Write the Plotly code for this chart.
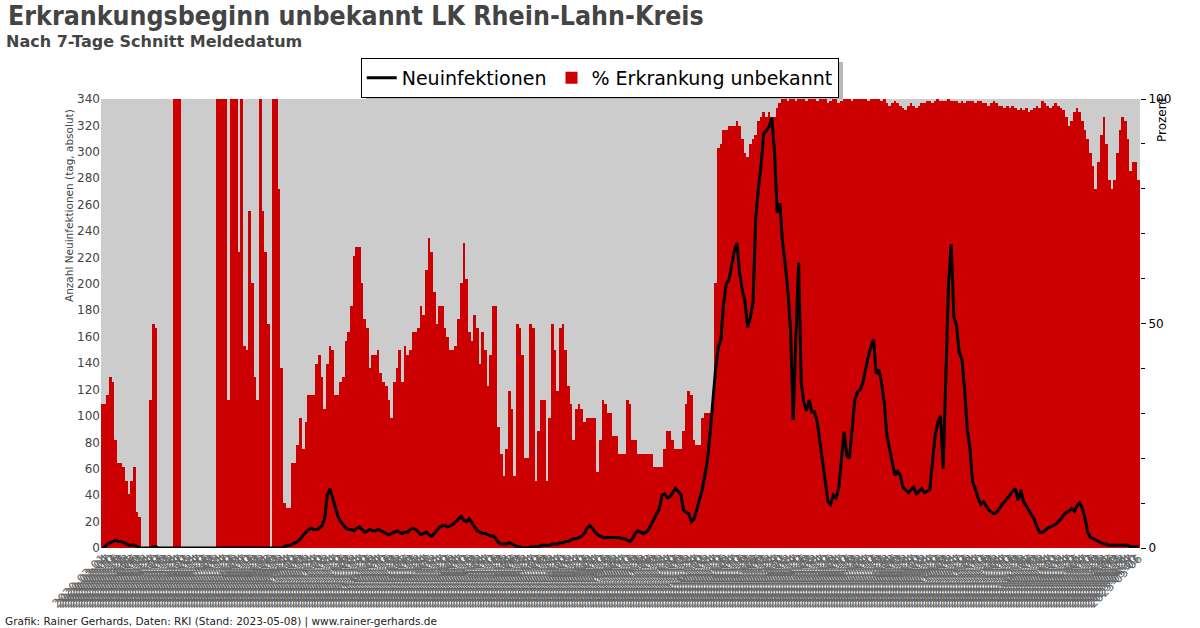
import pandas as pd
import plotly.graph_objects as go

# ---------------- data (3-day sampling) ----------------
start_date = "2020-03-01"
step_days = 3

# % Erkrankungsbeginn unbekannt (right axis, percent)
pct_unbekannt = [
    32, 32, 34, 38, 37, 24, 19, 19, 18, 15, 12, 15, 18, 8, 7,
    0, 0, 0,
    33, 50, 49,
    0, 0, 0, 0, 0, 0,
    100, 100, 100,
    0, 0, 0, 0, 0, 0, 0, 0, 0, 0, 0, 0, 0,
    100, 100, 100, 100,
    33,
    100, 100, 100,
    66,
    100,
    45, 44, 75, 59, 38, 33,
    100, 75, 66, 50,
    0,
    100, 100, 80, 40,
    10, 9, 9, 19, 19, 23, 29, 22, 28, 34, 34, 34,
    41, 43, 38, 31, 41, 45, 44, 34, 34, 37,
    38, 46, 48, 54, 65, 67, 67, 59, 51, 49,
    40, 43, 43, 44, 39, 37, 36, 33, 29, 37, 40, 44, 37, 45, 43,
    44, 48, 48, 49, 54, 52, 62, 69, 66, 57, 50, 54, 54, 49, 47,
    44, 44, 45, 51, 59, 68, 60, 48, 46, 52, 49, 41, 48, 44, 36, 43, 54, 54,
    27, 21, 16, 22, 35, 31, 16, 50, 49, 43, 20, 20, 50, 49, 15, 26, 33, 33, 15, 29, 50, 44, 35,
    49, 50, 44, 36, 32, 24, 31, 32, 31, 28, 29, 29, 29, 29, 17, 24, 33, 32, 30, 30, 25, 25, 21, 21, 21, 33, 32, 24, 24,
    21, 21, 21, 21, 21, 21, 18, 18, 18, 18, 22, 26, 26, 24, 22, 22, 22, 26, 32, 35, 34, 24, 23, 23, 29, 30, 30, 30, 35, 59,
    89, 90, 93, 93, 94, 94, 94, 95, 94, 91, 88, 87, 90, 91, 92, 95, 96, 97, 96, 97, 95, 96, 98, 99,
    100, 100, 99.5, 100, 100, 99.5, 100, 100, 100, 99.5,
    100, 100, 100, 99.5, 100, 100, 100, 99, 99.5, 100,
    100, 99, 99.5, 100, 100, 100, 99.5, 100, 100, 100,
    100, 100, 99.5, 100, 100, 100, 100, 99.5, 100, 99,
    98.5, 99, 99.5, 99, 98.5, 98, 97.5, 98.5, 99, 98.5,
    98, 98.5, 99, 99, 99.5, 99.5, 99, 99.5, 100, 99.5,
    99.5, 99.5, 100, 99.5, 99.5, 99.5, 99, 99.5, 99, 99.5,
    99.5, 99.5, 99, 99.5, 99.5, 99, 99, 98.5, 99, 99.5, 99, 98.5,
    98.5, 98, 98.5, 98, 98.5, 98, 97.5, 98, 97.5, 98, 97, 97.5, 98, 98.5, 98, 99.5, 99,
    98.5, 98, 98.5, 99, 98.5, 98, 97.5, 96, 94, 95, 97, 98, 97, 95, 93, 91, 88,
    85, 80, 86, 92, 96, 90, 82, 80, 82, 88, 93, 96, 95, 91, 84, 86, 86, 82,
]

# Neuinfektionen, 7-Tage-Schnitt (left axis, absolute)
neuinfektionen = [
    0, 1, 3, 4, 5, 6, 5, 5, 4, 3, 2, 2, 2, 1, 0,
    0, 0, 0, 0, 1, 1,
    0, 0, 0, 0, 0, 0, 0, 0, 0, 0, 0, 0, 0, 0, 0, 0, 0, 0, 0, 0, 0, 0, 0, 0,
    0, 0, 0, 0, 0, 0, 0, 0, 0, 0, 0, 0, 0, 0, 0, 0, 0, 0, 0, 0, 0, 0, 0,
    1, 2, 2, 3, 4, 5,
    7, 10, 12, 14, 15, 14, 14, 15, 17, 22,
    40, 45, 38, 30, 24, 20, 17, 15, 14, 14,
    13, 15, 16, 14, 12, 13, 14, 13, 13, 14,
    13, 12, 11, 10, 11, 12, 13, 12, 11, 12,
    12, 14, 15, 14, 12, 10, 11, 12, 10, 9,
    11, 14, 16, 17, 17, 16, 17, 18, 20, 22,
    24, 21, 20, 22, 19, 16, 13, 12, 11, 11,
    10, 9, 9, 7, 4, 3, 3, 3, 4, 3,
    2, 1, 1, 0, 0, 0, 1, 1, 1, 1,
    2, 2, 2, 2, 3, 3, 3,
    4, 4, 5, 5, 6, 7, 7, 8, 9, 11,
    15, 17, 15, 12, 10, 9, 8, 8, 8, 8,
    8, 8, 8, 7, 7, 6, 5, 7, 11, 13,
    12, 11, 12, 14, 18, 22, 25, 30, 40, 41,
    38, 39, 42, 45, 43, 41, 29, 27, 26, 20,
    22, 29, 35, 44, 55, 67, 88,
    112, 135, 152, 158, 185, 200, 203, 215, 225, 231,
    208, 195, 186, 167, 175, 186, 250, 272, 290, 314,
    316, 319, 326, 300, 254, 261, 232, 215, 195, 165,
    97, 160, 216, 125, 110, 104, 112, 103, 103, 95, 79,
    62, 50, 35, 33, 40, 38, 45, 68, 88, 70,
    68, 90, 112, 118, 120, 125, 135, 145, 152, 158,
    132, 135, 125, 110, 85, 75, 65, 55, 58, 55,
    46, 44, 42, 44, 46, 41, 43, 45, 42, 43,
    44, 65, 85, 95, 100, 60, 130, 200, 230, 175,
    168, 148, 143, 120, 90, 75, 50, 45, 38, 33,
    35, 32, 29, 27, 26, 27, 30, 33, 35, 38,
    40, 43, 45, 36, 44, 35, 32, 28, 25, 22,
    16, 12, 12, 13, 15, 16, 17, 18, 20, 22,
    25, 27, 28, 30, 28, 32, 34, 30, 22, 12,
    8, 7, 6, 5, 4, 3, 3, 2, 2, 2,
    2, 2, 2, 2, 2, 1, 1, 1, 1,
]

left_ticks = list(range(0, 341, 20))
right_ticks = [0, 50, 100]

title_text = "Erkrankungsbeginn unbekannt LK Rhein-Lahn-Kreis"
subtitle_text = "Nach 7-Tage Schnitt Meldedatum"
footer_text = "Grafik: Rainer Gerhards, Daten: RKI (Stand: 2023-05-08) | www.rainer-gerhards.de"

n = min(len(pct_unbekannt), len(neuinfektionen))
dates = pd.date_range(start_date, periods=n, freq=f"{step_days}D").strftime("%Y-%m-%d").tolist()

# ---------------- figure ----------------
W, H = 1200, 628
L, R, T, B = 101, 60, 99, 80
pw, ph = W - L - R, H - T - B


def px(x):
    return (x - L) / pw


def py(y):
    return (H - B - y) / ph


FONT = "DejaVu Sans"

fig = go.Figure()
fig.add_trace(go.Scatter(
    x=dates, y=neuinfektionen[:n], name="Neuinfektionen", mode="lines",
    line=dict(color="black", width=3), yaxis="y2",
))
fig.add_trace(go.Bar(
    x=dates, y=pct_unbekannt[:n], name="% Erkrankung unbekannt",
    marker=dict(color="#cc0000", line=dict(width=0)), yaxis="y",
))

fig.update_layout(
    width=W, height=H,
    margin=dict(l=L, r=R, t=T, b=B, autoexpand=False),
    paper_bgcolor="white",
    plot_bgcolor="#cccccc",
    bargap=0,
    font=dict(family=FONT, size=12, color="#444444"),
    showlegend=True,
    legend=dict(
        orientation="h", x=0.48, xanchor="center", y=py(58), yanchor="top",
        bgcolor="white", bordercolor="black", borderwidth=1,
        font=dict(family=FONT, size=19, color="black"),
        traceorder="normal", tracegroupgap=0,
    ),
    xaxis=dict(
        type="category", tickmode="linear", tick0=0, dtick=1,
        tickangle=-45, tickfont=dict(size=12, color="#666666"),
        showgrid=False, zeroline=False, showline=False, ticks="",
        automargin=False,
    ),
    yaxis=dict(
        side="right", range=[0, 100], tickvals=right_ticks,
        ticks="outside", ticklen=5, tickcolor="black",
        minor=dict(dtick=10, ticks="outside", ticklen=4, tickcolor="black"),
        tickfont=dict(size=12, color="black"),
        showgrid=False, zeroline=False, showline=False, automargin=False,
    ),
    yaxis2=dict(
        overlaying="y", side="left", range=[0, 340], tickvals=left_ticks,
        ticks="", tickfont=dict(size=12, color="#444444"),
        showgrid=False, zeroline=False, showline=False, automargin=False,
    ),
)

# legend shadow (peeks out right and below the legend box)
fig.add_shape(type="rect", xref="paper", yref="paper",
              x0=px(366), x1=px(843), y0=py(99), y1=py(62),
              fillcolor="rgba(0,0,0,0.28)", line=dict(width=0), layer="above")

fig.add_annotation(text=f"<b>{title_text}</b>", xref="paper", yref="paper",
                   x=px(6), y=py(15), xanchor="left", yanchor="middle", showarrow=False,
                   font=dict(family="DejaVu Sans Condensed", size=26.5, color="#444444"))
fig.add_annotation(text=f"<b>{subtitle_text}</b>", xref="paper", yref="paper",
                   x=px(4), y=py(41), xanchor="left", yanchor="middle", showarrow=False,
                   font=dict(family=FONT, size=16, color="#444444"))
fig.add_annotation(text="Anzahl Neuinfektionen (tag, absolut)", xref="paper", yref="paper",
                   x=px(69), y=py(206), xanchor="center", yanchor="middle", showarrow=False,
                   textangle=-90, font=dict(family=FONT, size=10.5, color="#444444"))
fig.add_annotation(text="Prozent", xref="paper", yref="paper",
                   x=px(1162), y=py(120), xanchor="center", yanchor="middle", showarrow=False,
                   textangle=-90, font=dict(family=FONT, size=12, color="black"))
fig.add_annotation(text=footer_text, xref="paper", yref="paper",
                   x=px(3), y=py(621), xanchor="left", yanchor="middle", showarrow=False,
                   font=dict(family=FONT, size=10.5, color="#222222"))

fig.write_html("out.html", config={"displayModeBar": False},
               post_script="document.body.style.margin='0px';")
